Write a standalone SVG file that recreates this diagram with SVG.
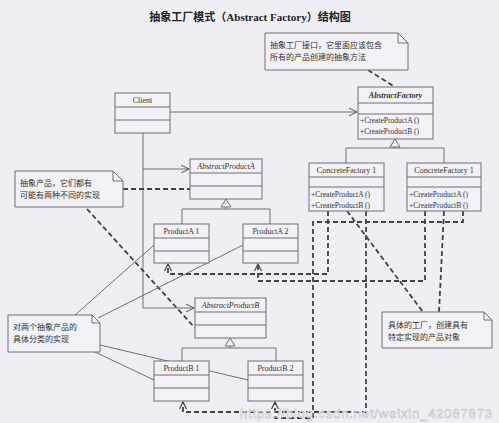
<svg xmlns="http://www.w3.org/2000/svg" width="499" height="423" viewBox="0 0 499 423">
<style>
.bg{fill:#eeeef4}
.box{fill:#f1f1f6;stroke:#6e6e74;stroke-width:1}
.ln{fill:none;stroke:#6e6e74;stroke-width:1}
.dash{fill:none;stroke:#414146;stroke-width:1.8;stroke-dasharray:5 3}
.nm{font-family:"Liberation Serif",serif;font-size:8px;fill:#333;text-anchor:middle}
.it{font-style:italic;font-weight:bold}
.op{font-family:"Liberation Serif",serif;font-size:7.5px;fill:#333}
.note{font-family:"Liberation Sans","Noto Sans CJK SC",sans-serif;font-size:8px;fill:#333}
.title{font-family:"Liberation Serif","Noto Sans CJK SC",serif;font-size:11px;font-weight:bold;fill:#222;text-anchor:middle}
</style>
<defs>
<marker id="open" markerWidth="9" markerHeight="8" refX="8" refY="4" orient="auto" markerUnits="userSpaceOnUse">
<path d="M0,0 L8,4 L0,8" fill="none" stroke="#555" stroke-width="1"/>
</marker>
<marker id="dep" markerWidth="9" markerHeight="8" refX="7" refY="4" orient="auto" markerUnits="userSpaceOnUse">
<path d="M0,0.5 L7,4 L0,7.5" fill="none" stroke="#414146" stroke-width="1.2"/>
</marker>
</defs>
<rect class="bg" x="0" y="0" width="499" height="423"/>
<text class="title" x="250" y="21">抽象工厂模式（Abstract Factory）结构图</text>

<g id="connectors">
<!-- client associations -->
<path class="ln" d="M170,112 H357" marker-end="url(#open)"/>
<path class="ln" d="M143,133 V308 H194" marker-end="url(#open)"/>
<path class="ln" d="M143,169 H189" marker-end="url(#open)"/>
<!-- inheritance -->
<path class="ln" d="M395,139 L400,147 H390 Z"/>
<path class="ln" d="M395,147 V148 M346,163 V148 H444 V163"/>
<path class="ln" d="M226,199 L231,207 H221 Z"/>
<path class="ln" d="M226,207 V209 M182,224 V209 H270 V224"/>
<path class="ln" d="M230,338 L235,346 H225 Z"/>
<path class="ln" d="M230,346 V348 M182,361 V348 H276 V361"/>
<!-- note links -->
<path class="dash" d="M368,70 L395,87"/>
<path class="dash" d="M123,189 H190"/>
<path class="dash" d="M87,209 L195,328"/>
<path class="dash" d="M347,211 L423,312"/>
<path class="dash" d="M444,211 L439,312"/>
<path class="ln" d="M75,315 L154,245"/>
<path class="ln" d="M98,318 L243,245"/>
<path class="ln" d="M95,352 L154,380"/>
<path class="ln" d="M100,345 L248,380"/>
<!-- dependencies -->
<path class="dash" d="M328,211 V274 H168 V264" marker-end="url(#dep)"/>
<path class="dash" d="M425,211 V281 H258 V264" marker-end="url(#dep)"/>
<path class="dash" d="M366,211 V412 H183 V402" marker-end="url(#dep)"/>
<path class="dash" d="M463,211 V222 H313 V418 H275 V402" marker-end="url(#dep)"/>
</g>

<g id="note-factory">
<path class="box" d="M265,33 H398 L408,43 V70 H265 Z"/>
<path class="ln" d="M398,33 V43 H408"/>
<text class="note" x="270" y="48">抽象工厂接口，它里面应该包含</text>
<text class="note" x="270" y="60">所有的产品创建的抽象方法</text>
</g>

<g id="note-abstract">
<path class="box" d="M15,171 H113 L123,181 V207 H15 Z"/>
<path class="ln" d="M113,171 V181 H123"/>
<text class="note" x="20" y="186">抽象产品，它们都有</text>
<text class="note" x="20" y="198">可能有两种不同的实现</text>
</g>

<g id="note-concrete-products">
<path class="box" d="M8,315 H92 L100,323 V352 H8 Z"/>
<path class="ln" d="M92,315 V323 H100"/>
<text class="note" x="13" y="330">对两个抽象产品的</text>
<text class="note" x="13" y="342">具体分类的实现</text>
</g>

<g id="note-concrete-factory">
<path class="box" d="M382,312 H484 L492,320 V348 H382 Z"/>
<path class="ln" d="M484,312 V320 H492"/>
<text class="note" x="388" y="328">具体的工厂，创建具有</text>
<text class="note" x="388" y="340">特定实现的产品对象</text>
</g>

<g id="client">
<rect class="box" x="115" y="93" width="55" height="40"/>
<path class="ln" d="M115,107 H170 M115,120 H170"/>
<text class="nm" x="142.5" y="103">Client</text>
</g>

<g id="abstract-factory">
<rect class="box" x="358" y="87" width="75" height="52"/>
<path class="ln" d="M358,103 H433 M358,114 H433"/>
<text class="nm it" x="395.5" y="98">AbstractFactory</text>
<text class="op" x="360" y="123">+CreateProductA ()</text>
<text class="op" x="360" y="134">+CreateProductB ()</text>
</g>

<g id="concrete-factory-1">
<rect class="box" x="309" y="163" width="75" height="48"/>
<path class="ln" d="M309,177 H384 M309,187 H384"/>
<text class="nm" x="346.5" y="173">ConcreteFactory 1</text>
<text class="op" x="311" y="197">+CreateProductA ()</text>
<text class="op" x="311" y="208">+CreateProductB ()</text>
</g>

<g id="concrete-factory-2">
<rect class="box" x="407" y="163" width="74" height="48"/>
<path class="ln" d="M407,177 H481 M407,187 H481"/>
<text class="nm" x="444" y="173">ConcreteFactory 1</text>
<text class="op" x="409" y="197">+CreateProductA ()</text>
<text class="op" x="409" y="208">+CreateProductB ()</text>
</g>

<g id="abstract-product-a">
<rect class="box" x="190" y="159" width="72" height="40"/>
<path class="ln" d="M190,173 H262 M190,186 H262"/>
<text class="nm" x="226" y="169" font-style="italic">AbstractProductA</text>
</g>

<g id="product-a1">
<rect class="box" x="154" y="224" width="55" height="39"/>
<path class="ln" d="M154,238 H209 M154,251 H209"/>
<text class="nm" x="181.5" y="234">ProductA 1</text>
</g>

<g id="product-a2">
<rect class="box" x="243" y="224" width="55" height="39"/>
<path class="ln" d="M243,238 H298 M243,251 H298"/>
<text class="nm" x="270.5" y="234">ProductA 2</text>
</g>

<g id="abstract-product-b">
<rect class="box" x="195" y="298" width="71" height="40"/>
<path class="ln" d="M195,312 H266 M195,325 H266"/>
<text class="nm" x="230.5" y="308" font-style="italic">AbstractProductB</text>
</g>

<g id="product-b1">
<rect class="box" x="154" y="361" width="55" height="40"/>
<path class="ln" d="M154,375 H209 M154,388 H209"/>
<text class="nm" x="181.5" y="371">ProductB 1</text>
</g>

<g id="product-b2">
<rect class="box" x="248" y="361" width="55" height="40"/>
<path class="ln" d="M248,375 H303 M248,388 H303"/>
<text class="nm" x="275.5" y="371">ProductB 2</text>
</g>

<text x="240" y="418" font-family="Liberation Sans,sans-serif" font-size="13" fill="#ffffff" fill-opacity="0.8" stroke="#b8b8c0" stroke-width="0.5" textLength="252">https://blog.csdn.net/weixin_42087873</text>
</svg>
